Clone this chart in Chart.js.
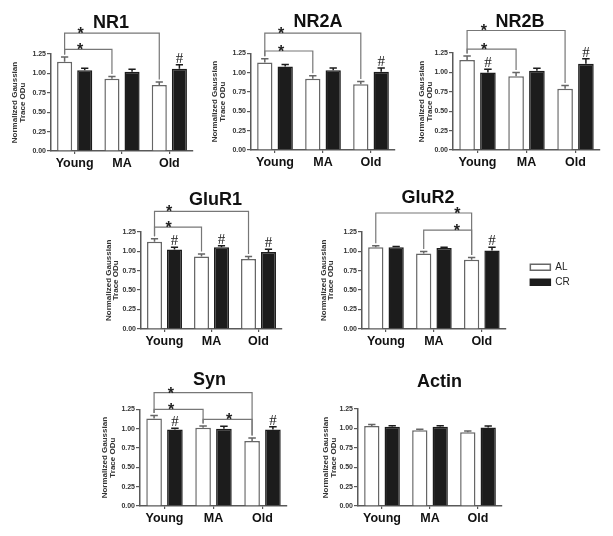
<!DOCTYPE html>
<html lang="en">
<head>
<meta charset="UTF-8">
<title>Glutamate receptor subunits - AL vs CR</title>
<script src="https://cdn.jsdelivr.net/npm/chart.js"></script>
<style>
  html, body { margin: 0; padding: 0; background: #fff; overflow: hidden; }
  body { width: 613px; height: 536px; position: relative; }
  canvas { position: absolute; }
</style>
</head>
<body>
<script>
const groups = ['Young', 'MA', 'Old'];
const seriesNames = ['AL', 'CR'];
const yTickLabels = ['0.00', '0.25', '0.50', '0.75', '1.00', '1.25'];

// values (mean, SEM)
const nr1AL = [1.15, 0.93, 0.85];
const nr1ALerr = [0.06, 0.03, 0.04];
const nr1CR = [1.04, 1.02, 1.06];
const nr1CRerr = [0.025, 0.035, 0.05];

const nr2aAL = [1.13, 0.92, 0.85];
const nr2aALerr = [0.05, 0.04, 0.035];
const nr2aCR = [1.08, 1.03, 1.01];
const nr2aCRerr = [0.025, 0.03, 0.05];

const nr2bAL = [1.16, 0.95, 0.79];
const nr2bALerr = [0.05, 0.05, 0.04];
const nr2bCR = [1.00, 1.02, 1.11];
const nr2bCRerr = [0.04, 0.035, 0.065];

const glur1AL = [1.12, 0.93, 0.90];
const glur1ALerr = [0.04, 0.035, 0.03];
const glur1CR = [1.02, 1.05, 0.99];
const glur1CRerr = [0.03, 0.02, 0.035];

const glur2AL = [1.05, 0.97, 0.89];
const glur2ALerr = [0.02, 0.025, 0.03];
const glur2CR = [1.05, 1.04, 1.01];
const glur2CRerr = [0.01, 0.01, 0.04];

const synAL = [1.13, 1.01, 0.84];
const synALerr = [0.04, 0.025, 0.04];
const synCR = [0.99, 1.00, 0.99];
const synCRerr = [0.015, 0.03, 0.035];

const actinAL = [1.03, 0.975, 0.95];
const actinALerr = [0.02, 0.015, 0.015];
const actinCR = [1.02, 1.02, 1.01];
const actinCRerr = [0.015, 0.015, 0.02];

Chart.defaults.font.family = '"Liberation Sans", Arial, sans-serif';
Chart.defaults.color = '#222';

const AXIS = '#595959';
const X_AXIS_H = 24;
const LEGEND_PAD = 5;

// geo: where the plot sits on the page (px)
const panels = [
  { name: 'NR1', al: nr1AL, alErr: nr1ALerr, cr: nr1CR, crErr: nr1CRerr,
    brackets: [{ from: 0, to: 2, level: 1.52, star: 0.17 }, { from: 0, to: 1, level: 1.31, star: 0.33 }],
    hash: [2],
    geo: { left: 0, top: 0, axisX: 51, xEnd: 193, yTop: 54, yBot: 151, titleX: 111, titleY: 23, axisTitleX: 15 } },
  { name: 'NR2A', al: nr2aAL, alErr: nr2aALerr, cr: nr2aCR, crErr: nr2aCRerr,
    brackets: [{ from: 0, to: 2, level: 1.51, star: 0.17 }, { from: 0, to: 1, level: 1.28, star: 0.34 }],
    hash: [2],
    geo: { left: 200, top: 0, axisX: 251, xEnd: 395, yTop: 53.3, yBot: 150, titleX: 318, titleY: 21.7, axisTitleX: 215 } },
  { name: 'NR2B', al: nr2bAL, alErr: nr2bALerr, cr: nr2bCR, crErr: nr2bCRerr,
    brackets: [{ from: 0, to: 2, level: 1.54, star: 0.17 }, { from: 0, to: 1, level: 1.30, star: 0.35 }],
    hash: [0, 2],
    geo: { left: 400, top: 0, axisX: 453, xEnd: 600, yTop: 53, yBot: 150, titleX: 520, titleY: 21.7, axisTitleX: 421.7 } },
  { name: 'GluR1', al: glur1AL, alErr: glur1ALerr, cr: glur1CR, crErr: glur1CRerr,
    brackets: [{ from: 0, to: 2, level: 1.51, star: 0.155 }, { from: 0, to: 1, level: 1.31, star: 0.3 }],
    hash: [0, 1, 2],
    geo: { left: 95, top: 180, axisX: 141, xEnd: 282, yTop: 231.7, yBot: 329.3, titleX: 215.5, titleY: 199.7, axisTitleX: 108.3 } },
  { name: 'GluR2', al: glur2AL, alErr: glur2ALerr, cr: glur2CR, crErr: glur2CRerr,
    brackets: [{ from: 0, to: 2, level: 1.49, star: 0.85 }, { from: 1, to: 2, level: 1.27, star: 0.69 }],
    hash: [2], legend: true,
    geo: { left: 282, top: 180, axisX: 362, xEnd: 500, yTop: 231.7, yBot: 329, titleX: 428, titleY: 198.3, axisTitleX: 323.3 } },
  { name: 'Syn', al: synAL, alErr: synALerr, cr: synCR, crErr: synCRerr,
    brackets: [{ from: 0, to: 2, level: 1.465, star: 0.17 }, { from: 0, to: 1, level: 1.25, star: 0.35 },
               { from: 1, to: 2, level: 1.12, star: 0.53 }],
    hash: [0, 2],
    geo: { left: 90, top: 365, axisX: 140, xEnd: 287, yTop: 409.3, yBot: 505.7, titleX: 209.5, titleY: 380, axisTitleX: 105 } },
  { name: 'Actin', al: actinAL, alErr: actinALerr, cr: actinCR, crErr: actinCRerr,
    brackets: [], hash: [],
    geo: { left: 310, top: 365, axisX: 358, xEnd: 502, yTop: 409, yBot: 505.7, titleX: 439.5, titleY: 381.7, axisTitleX: 325.7 } }
];

function legendWidth() {
  const ctx = document.createElement('canvas').getContext('2d');
  ctx.font = '10px ' + Chart.defaults.font.family;
  const textW = Math.max(...seriesNames.map(s => ctx.measureText(s).width));
  return LEGEND_PAD + 20 + 5 + textW + 10;
}

// error bars (upper half only), brackets with stars, # over CR bars
function marksPlugin(p) {
  return {
    id: 'sigMarks',
    afterDatasetsDraw(chart) {
      const ctx = chart.ctx;
      const y = chart.scales.y;
      const metas = [chart.getDatasetMeta(0).data, chart.getDatasetMeta(1).data];
      const vals = [[p.al, p.alErr], [p.cr, p.crErr]];
      const errTop = (s, i) => y.getPixelForValue(vals[s][0][i] + vals[s][1][i]);
      ctx.save();
      ctx.lineWidth = 1.5;
      metas.forEach((bars, s) => {
        ctx.strokeStyle = s === 0 ? '#666' : '#1c1c1c';
        bars.forEach((bar, i) => {
          const t = errTop(s, i);
          const half = bar.width * 0.24;
          ctx.beginPath();
          ctx.moveTo(bar.x, bar.y);
          ctx.lineTo(bar.x, t);
          ctx.moveTo(bar.x - half, t);
          ctx.lineTo(bar.x + half, t);
          ctx.stroke();
        });
      });

      ctx.strokeStyle = '#777';
      ctx.lineWidth = 1.2;
      ctx.fillStyle = '#222';
      ctx.textAlign = 'center';
      ctx.textBaseline = 'alphabetic';
      ctx.font = 'bold 16px "Liberation Sans", Arial, sans-serif';
      p.brackets.forEach(b => {
        const x1 = metas[0][b.from].x, x2 = metas[0][b.to].x;
        const ly = y.getPixelForValue(b.level);
        ctx.beginPath();
        ctx.moveTo(x1, errTop(0, b.from) - 2.5);
        ctx.lineTo(x1, ly);
        ctx.lineTo(x2, ly);
        ctx.lineTo(x2, errTop(0, b.to) - 2.5);
        ctx.stroke();
        ctx.fillText('*', x1 + (x2 - x1) * b.star, ly + 6);
      });

      ctx.font = '15px "Liberation Serif", "Times New Roman", serif';
      p.hash.forEach(i => {
        ctx.fillText('#', metas[1][i].x, errTop(1, i) - 2);
      });
      ctx.restore();
    }
  };
}

function buildPanel(p) {
  const g = p.geo;
  const W = Math.round(2 * (g.titleX - g.left));
  const H = Math.round(g.yBot - g.top + X_AXIS_H);
  const legendW = p.legend ? legendWidth() : 0;
  const padRight = g.left + W - g.xEnd - legendW;
  const titleTop = g.titleY - g.top - 10.8;
  const titleBottom = g.yTop - g.top - titleTop - 21.6;

  const canvas = document.createElement('canvas');
  canvas.width = W;
  canvas.height = H;
  canvas.style.left = g.left + 'px';
  canvas.style.top = g.top + 'px';
  document.body.appendChild(canvas);

  new Chart(canvas, {
    type: 'bar',
    data: {
      labels: groups,
      datasets: [
        { label: seriesNames[0], data: p.al, backgroundColor: '#ffffff', borderColor: '#666', borderWidth: 1.5,
          categoryPercentage: 0.85, barPercentage: 0.75 },
        { label: seriesNames[1], data: p.cr, backgroundColor: '#1c1c1c', borderColor: '#1c1c1c', borderWidth: 1.5,
          categoryPercentage: 0.85, barPercentage: 0.75 }
      ]
    },
    options: {
      responsive: false,
      animation: false,
      devicePixelRatio: 1,
      layout: { padding: 0 },
      plugins: {
        title: {
          display: true,
          text: p.name,
          color: '#111',
          font: { size: 18, weight: 'bold', lineHeight: 1.2 },
          padding: { top: titleTop, bottom: titleBottom }
        },
        legend: p.legend ? {
          display: true,
          position: 'right',
          fullSize: false,
          align: 'center',
          // empty title with negative padding nudges the items up a little
          title: { display: true, text: '', font: { size: 10, lineHeight: 1 }, padding: { top: -21, bottom: 0 } },
          labels: { boxWidth: 20, boxHeight: 6, padding: LEGEND_PAD, font: { size: 10 }, color: '#222' }
        } : { display: false },
        tooltip: { enabled: false }
      },
      scales: {
        x: {
          grid: { display: true, drawOnChartArea: false, offset: false, tickLength: 3, color: AXIS, lineWidth: 1.2 },
          border: { color: AXIS, width: 1.5 },
          ticks: { font: { size: 12.5, weight: 'bold' }, color: '#111', padding: 2 },
          afterFit: s => { s.height = X_AXIS_H; }
        },
        y: {
          min: 0,
          max: 1.25,
          grid: { drawOnChartArea: false, tickLength: 4, color: AXIS, lineWidth: 1.2 },
          border: { color: AXIS, width: 1.5 },
          ticks: { stepSize: 0.25, font: { size: 7, weight: 'bold' }, color: '#333', padding: 1,
                   callback: (v, i) => yTickLabels[i] },
          title: {
            display: true,
            text: ['Normalized Gaussian', 'Trace ODu'],
            color: '#333',
            font: { size: 8, weight: 'bold', lineHeight: 0.95 },
            padding: { top: g.axisTitleX - g.left - 3.8, bottom: 0 }
          },
          afterFit: s => { s.width = g.axisX - g.left; }
        },
        yPad: {
          position: 'right',
          display: true,
          grid: { display: false },
          border: { display: false },
          ticks: { display: false },
          afterFit: s => { s.width = Math.max(0, padRight); }
        }
      }
    },
    plugins: [marksPlugin(p)]
  });
}

panels.forEach(buildPanel);
</script>
</body>
</html>
